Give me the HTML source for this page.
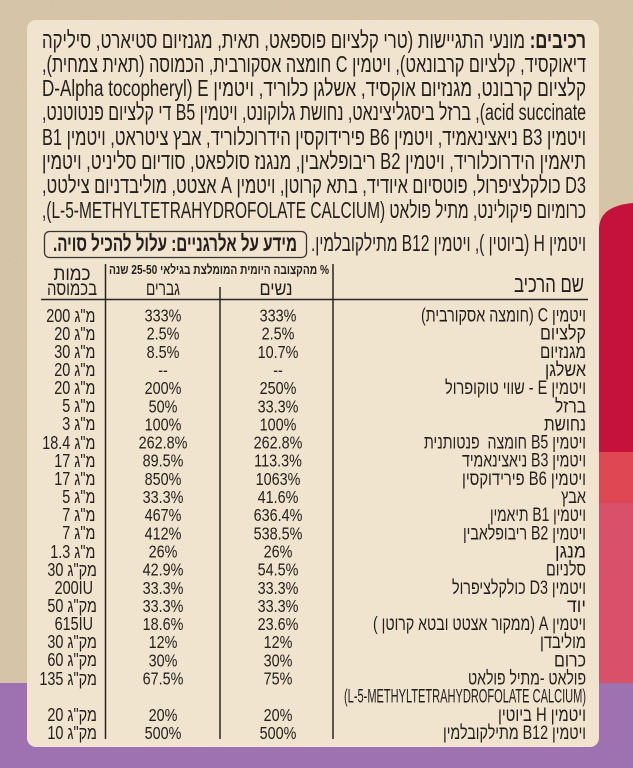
<!DOCTYPE html>
<html><head><meta charset="utf-8"><style>
html,body{margin:0;padding:0;background:#d6c3a6}
svg{display:block}
text{font-family:"Liberation Sans","DejaVu Sans","Noto Sans CJK JP",sans-serif;fill:#241e1c}
#amt{position:absolute;left:0;top:0;width:633px;height:768px;}
#amt div{position:absolute;white-space:nowrap;direction:ltr;font-family:"Liberation Sans","DejaVu Sans",sans-serif;font-size:18px;line-height:20px;color:#241e1c;transform:scaleX(0.8);transform-origin:100% 50%;}
.mg{right:538px}.mc{right:536px}.iu{right:540px}
</style></head><body>
<svg width="633" height="768" viewBox="0 0 633 768" xmlns="http://www.w3.org/2000/svg">
<defs>
<filter id="n" x="0" y="0" width="100%" height="100%">
<feTurbulence type="fractalNoise" baseFrequency="0.9" numOctaves="2" seed="3"/>
<feColorMatrix type="matrix" values="0 0 0 0 1  0 0 0 0 0.97  0 0 0 0 0.92  0 0 0 -2.2 1.2"/>
</filter>
</defs>
<rect x="0" y="0" width="633" height="768" fill="#d6c3a6"/>
<rect x="0" y="0" width="633" height="683" filter="url(#n)" opacity="0.12"/>
<!-- right stripes -->
<path d="M599 228 C600 212 612 205 633 203 L633 452 L599 452 Z" fill="#c5123d"/>
<rect x="599" y="452" width="34" height="51" fill="#df4753"/>
<rect x="599" y="503" width="34" height="180" fill="#d9506b"/>
<rect x="0" y="683" width="633" height="85" fill="#9e72b1"/>
<!-- card -->
<rect x="27" y="20" width="572" height="727" rx="9" ry="9" fill="#f0e4cf"/>

<!-- ingredients paragraph -->
<g font-size="23">
<text x="314" y="48" direction="rtl" style="direction:rtl" text-anchor="middle" textLength="544" lengthAdjust="spacingAndGlyphs"><tspan font-weight="bold">רכיבים:</tspan> מונעי התגיישות (טרי קלציום פוספאט, תאית, מגנזיום סטיארט, סיליקה</text>
<text x="314" y="72" direction="rtl" style="direction:rtl" text-anchor="middle" textLength="544" lengthAdjust="spacingAndGlyphs">דיאוקסיד, קלציום קרבונאט), ויטמין C חומצה אסקורבית, הכמוסה (תאית צמחית),</text>
<text x="314" y="96" direction="rtl" style="direction:rtl" text-anchor="middle" textLength="544" lengthAdjust="spacingAndGlyphs">קלציום קרבונט, מגנזיום אוקסיד, אשלגן כלוריד, ויטמין E&#x200F; (D-Alpha tocopheryl</text>
<text x="314" y="120" direction="rtl" style="direction:rtl" text-anchor="middle" textLength="544" lengthAdjust="spacingAndGlyphs">acid succinate), ברזל ביסגליצינאט, נחושת גלוקונט, ויטמין B5 די קלציום פנטוטנט,</text>
<text x="314" y="145" direction="rtl" style="direction:rtl" text-anchor="middle" textLength="544" lengthAdjust="spacingAndGlyphs">ויטמין B3 ניאצינאמיד, ויטמין B6 פירידוקסין הידרוכלוריד, אבץ ציטראט, ויטמין B1</text>
<text x="314" y="169" direction="rtl" style="direction:rtl" text-anchor="middle" textLength="544" lengthAdjust="spacingAndGlyphs">תיאמין הידרוכלוריד, ויטמין B2 ריבופלאבין, מנגנז סולפאט, סודיום סליניט, ויטמין</text>
<text x="314" y="193" direction="rtl" style="direction:rtl" text-anchor="middle" textLength="544" lengthAdjust="spacingAndGlyphs">D3 כולקלציפרול, פוטסיום איודיד, בתא קרוטן, ויטמין A אצטט, מוליבדניום צילטט,</text>
<text x="314" y="218" direction="rtl" style="direction:rtl" text-anchor="middle" textLength="544" lengthAdjust="spacingAndGlyphs">כרומיום פיקולינט, מתיל פולאט (L-5-METHYLTETRAHYDROFOLATE CALCIUM),</text>
<text x="448.5" y="251" direction="rtl" style="direction:rtl" text-anchor="middle" textLength="275" lengthAdjust="spacingAndGlyphs">ויטמין H (ביוטין ), ויטמין B12 מתילקובלמין.</text>
</g>
<rect x="44.5" y="231.5" width="262" height="26" rx="5" ry="5" fill="none" stroke="#3a3330" stroke-width="1.3"/>
<text x="175" y="251" font-size="22" font-weight="bold" direction="rtl" style="direction:rtl" text-anchor="middle" textLength="244" lengthAdjust="spacingAndGlyphs">מידע על אלרגניים: עלול להכיל סויה.</text>

<!-- table lines -->
<g stroke="#2a2422" stroke-width="1.5">
<line x1="41" y1="299.5" x2="588" y2="299.5"/>
<line x1="105.5" y1="264" x2="105.5" y2="739"/>
<line x1="220" y1="287" x2="220" y2="739"/>
<line x1="333" y1="264" x2="333" y2="739"/>
</g>

<!-- header -->
<text x="72" y="280" font-size="19" direction="rtl" style="direction:rtl" text-anchor="middle" textLength="37" lengthAdjust="spacingAndGlyphs">כמות</text>
<text x="72" y="295" font-size="19" direction="rtl" style="direction:rtl" text-anchor="middle" textLength="50" lengthAdjust="spacingAndGlyphs">בכמוסה</text>
<text x="219" y="274" font-size="13" font-weight="bold" direction="rtl" style="direction:rtl" text-anchor="middle" textLength="220" lengthAdjust="spacingAndGlyphs">% מהקצובה היומית המומלצת בגילאי 25-50 שנה</text>
<text x="163" y="295" font-size="19" direction="rtl" style="direction:rtl" text-anchor="middle" textLength="34" lengthAdjust="spacingAndGlyphs">גברים</text>
<text x="276" y="295" font-size="19" direction="rtl" style="direction:rtl" text-anchor="middle" textLength="33" lengthAdjust="spacingAndGlyphs">נשים</text>
<text x="549" y="292" font-size="23" direction="rtl" style="direction:rtl" text-anchor="middle" textLength="70" lengthAdjust="spacingAndGlyphs">שם הרכיב</text>

<!-- names -->
<g font-size="19" text-anchor="middle" style="direction:rtl" direction="rtl">
<text x="503.5" y="321.5" textLength="165" lengthAdjust="spacingAndGlyphs">ויטמין C (חומצה אסקורבית)</text>
<text x="563" y="339.7" textLength="46" lengthAdjust="spacingAndGlyphs">קלציום</text>
<text x="563" y="357.8" textLength="46" lengthAdjust="spacingAndGlyphs">מגנזיום</text>
<text x="565.5" y="376" textLength="41" lengthAdjust="spacingAndGlyphs">אשלגן</text>
<text x="515.5" y="394.1" textLength="141" lengthAdjust="spacingAndGlyphs">ויטמין E - שווי טוקופרול</text>
<text x="570.5" y="412.3" textLength="31" lengthAdjust="spacingAndGlyphs">ברזל</text>
<text x="565" y="430.4" textLength="42" lengthAdjust="spacingAndGlyphs">נחושת</text>
<text x="505" y="448.6" textLength="162" lengthAdjust="spacingAndGlyphs">ויטמין B5 חומצה&#160; פנטותנית</text>
<text x="524" y="466.7" textLength="124" lengthAdjust="spacingAndGlyphs">ויטמין B3 ניאצינאמיד</text>
<text x="524" y="484.9" textLength="124" lengthAdjust="spacingAndGlyphs">ויטמין B6 פירידוקסין</text>
<text x="573.5" y="503" textLength="25" lengthAdjust="spacingAndGlyphs">אבץ</text>
<text x="538" y="521.2" textLength="96" lengthAdjust="spacingAndGlyphs">ויטמין B1 תיאמין</text>
<text x="524.5" y="539.3" textLength="123" lengthAdjust="spacingAndGlyphs">ויטמין B2 ריבופלאבין</text>
<text x="570.5" y="557.5" textLength="31" lengthAdjust="spacingAndGlyphs">מנגן</text>
<text x="566" y="575.6" textLength="40" lengthAdjust="spacingAndGlyphs">סלניום</text>
<text x="519" y="593.8" textLength="134" lengthAdjust="spacingAndGlyphs">ויטמין D3 כולקלציפרול</text>
<text x="576.5" y="611.9" textLength="19" lengthAdjust="spacingAndGlyphs">יוד</text>
<text x="479.5" y="630.1" textLength="213" lengthAdjust="spacingAndGlyphs">ויטמין A (ממקור אצטט ובטא קרוטן )</text>
<text x="563" y="648.2" textLength="46" lengthAdjust="spacingAndGlyphs">מוליבדן</text>
<text x="570" y="666.4" textLength="32" lengthAdjust="spacingAndGlyphs">כרום</text>
<text x="527" y="684.5" textLength="118" lengthAdjust="spacingAndGlyphs">פולאט -מתיל פולאט</text>
<text x="465" y="702.7" textLength="242" lengthAdjust="spacingAndGlyphs" direction="ltr" style="direction:ltr">(L-5-METHYLTETRAHYDROFOLATE CALCIUM)</text>
<text x="542" y="720.8" textLength="88" lengthAdjust="spacingAndGlyphs">ויטמין H ביוטין</text>
<text x="514.5" y="739" textLength="143" lengthAdjust="spacingAndGlyphs">ויטמין B12 מתילקובלמין</text>
</g>

<!-- men -->
<g transform="translate(163,0) scale(0.8,1)" font-size="18" text-anchor="middle">
<text x="0" y="321.5">333%</text>
<text x="0" y="339.7">2.5%</text>
<text x="0" y="357.8">8.5%</text>
<text x="0" y="376">--</text>
<text x="0" y="394.1">200%</text>
<text x="0" y="412.3">50%</text>
<text x="0" y="430.4">100%</text>
<text x="0" y="448.6">262.8%</text>
<text x="0" y="466.7">89.5%</text>
<text x="0" y="484.9">850%</text>
<text x="0" y="503">33.3%</text>
<text x="0" y="521.2">467%</text>
<text x="0" y="539.3">412%</text>
<text x="0" y="557.5">26%</text>
<text x="0" y="575.6">42.9%</text>
<text x="0" y="593.8">33.3%</text>
<text x="0" y="611.9">33.3%</text>
<text x="0" y="630.1">18.6%</text>
<text x="0" y="648.2">12%</text>
<text x="0" y="666.4">30%</text>
<text x="0" y="684.5">67.5%</text>
<text x="0" y="720.8">20%</text>
<text x="0" y="739">500%</text>
</g>

<!-- women -->
<g transform="translate(278,0) scale(0.8,1)" font-size="18" text-anchor="middle">
<text x="0" y="321.5">333%</text>
<text x="0" y="339.7">2.5%</text>
<text x="0" y="357.8">10.7%</text>
<text x="0" y="376">--</text>
<text x="0" y="394.1">250%</text>
<text x="0" y="412.3">33.3%</text>
<text x="0" y="430.4">100%</text>
<text x="0" y="448.6">262.8%</text>
<text x="0" y="466.7">113.3%</text>
<text x="0" y="484.9">1063%</text>
<text x="0" y="503">41.6%</text>
<text x="0" y="521.2">636.4%</text>
<text x="0" y="539.3">538.5%</text>
<text x="0" y="557.5">26%</text>
<text x="0" y="575.6">54.5%</text>
<text x="0" y="593.8">33.3%</text>
<text x="0" y="611.9">33.3%</text>
<text x="0" y="630.1">23.6%</text>
<text x="0" y="648.2">12%</text>
<text x="0" y="666.4">30%</text>
<text x="0" y="684.5">75%</text>
<text x="0" y="720.8">20%</text>
<text x="0" y="739">500%</text>
</g>
</svg>

<div id="amt">
<div class="mg" style="top:305.5px">200 מ"ג</div>
<div class="mg" style="top:323.7px">20 מ"ג</div>
<div class="mg" style="top:341.8px">30 מ"ג</div>
<div class="mg" style="top:360px">20 מ"ג</div>
<div class="mg" style="top:378.1px">20 מ"ג</div>
<div class="mg" style="top:396.3px">5 מ"ג</div>
<div class="mg" style="top:414.4px">3 מ"ג</div>
<div class="mg" style="top:432.6px">18.4 מ"ג</div>
<div class="mg" style="top:450.7px">17 מ"ג</div>
<div class="mg" style="top:468.9px">17 מ"ג</div>
<div class="mg" style="top:487px">5 מ"ג</div>
<div class="mg" style="top:505.2px">7 מ"ג</div>
<div class="mg" style="top:523.3px">7 מ"ג</div>
<div class="mg" style="top:541.5px">1.3 מ"ג</div>
<div class="mc" style="top:559.6px">30 מק"ג</div>
<div class="iu" style="top:577.8px">200IU</div>
<div class="mc" style="top:595.9px">50 מק"ג</div>
<div class="iu" style="top:614.1px">615IU</div>
<div class="mc" style="top:632.2px">30 מק"ג</div>
<div class="mc" style="top:650.4px">60 מק"ג</div>
<div class="mc" style="top:668.5px">135 מק"ג</div>
<div class="mc" style="top:704.8px">20 מק"ג</div>
<div class="mc" style="top:723px">10 מק"ג</div>
</div>
</body></html>
